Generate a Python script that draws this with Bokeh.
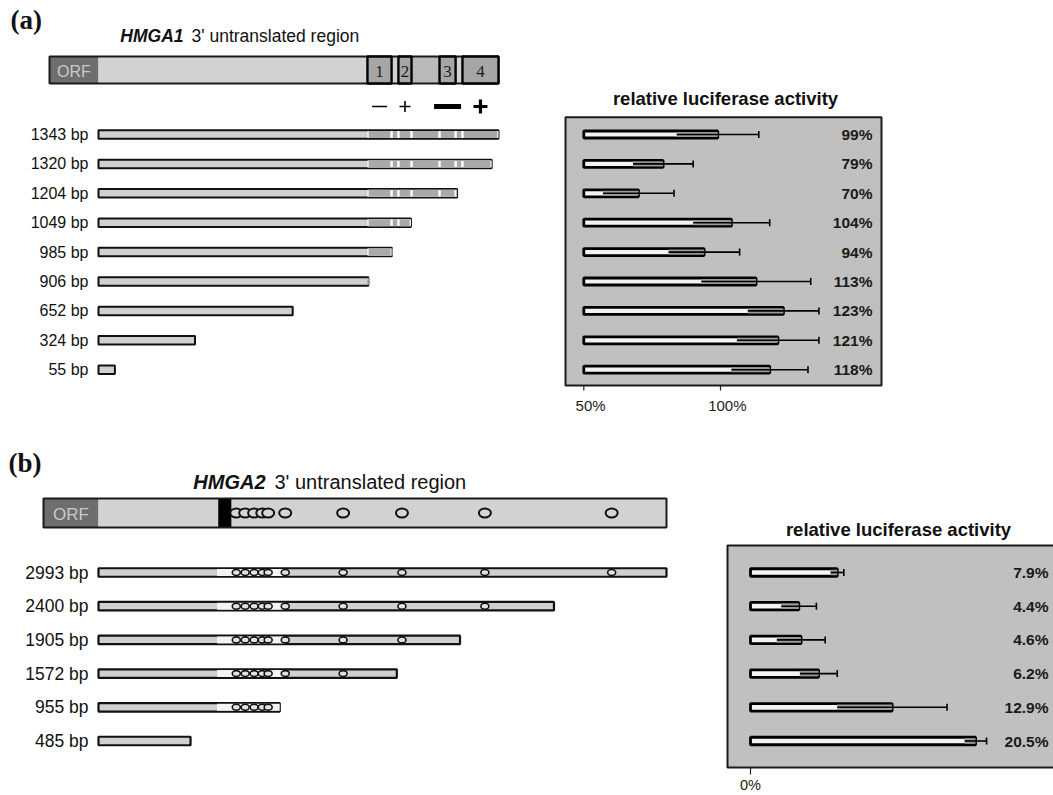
from bokeh.plotting import figure
from bokeh.models import Range1d
from bokeh.core.properties import value
from bokeh.embed import file_html
from bokeh.resources import INLINE

# ---------------- data ----------------
# HMGA1 3' UTR deletion constructs (bp) and relative luciferase activity (%)
hmga1_lengths = [1343, 1320, 1204, 1049, 985, 906, 652, 324, 55]
hmga1_box_start = [903, 1007, 1145, 1222]
hmga1_box_end = [984, 1051, 1199, 1343]
hmga1_box_names = ["1", "2", "3", "4"]
hmga1_box_sign = ["-", "+", "-", "+"]
hmga1_box_sign_strong = [False, False, True, True]
hmga1_activity = [99, 79, 70, 104, 94, 113, 123, 121, 118]
hmga1_error = [15, 11, 13, 14, 13, 20, 13, 15, 14]
hmga1_ticks = [50, 100]

# HMGA2 3' UTR deletion constructs (bp), target sites (bp) and activity (%)
hmga2_lengths = [2993, 2400, 1905, 1572, 955, 485]
hmga2_sites = [726, 773, 820, 863, 894, 984, 1289, 1599, 2036, 2704]
hmga2_block = [631, 700]
hmga2_open = [625, 985]
hmga2_activity = [7.9, 4.4, 4.6, 6.2, 12.9, 20.5]
hmga2_error = [0.6, 1.6, 2.2, 1.7, 5.0, 1.0]
hmga2_ticks = [0]

# ---------------- page geometry ----------------
W, H = 1053, 795
SANS = value("Liberation Sans")
SERIF = value("Liberation Serif")
INK = "#111111"
CHART_BG = "#c0c0c0"

p = figure(width=W, height=H, x_range=Range1d(0, W), y_range=Range1d(H, 0),
           output_backend="svg", toolbar_location=None, min_border=0,
           x_axis_location=None, y_axis_location=None)
p.grid.visible = False
p.outline_line_color = None
p.background_fill_color = "white"
p.border_fill_color = "white"


def scale(origin_px, px_per_unit, origin_value=0.0):
    """Linear data range whose origin_value sits at origin_px on the page."""
    return Range1d(origin_value - origin_px / px_per_unit,
                   origin_value + (W - origin_px) / px_per_unit)


# panel (a) scales
A_BP0, A_BPPX = 98.0, 400.0 / 1343.0
A_PCT0, A_PCTPX = 583.3, 2.734
# panel (b) scales
B_BP0, B_BPPX = 98.0, 568.0 / 2993.0
B_PCT0, B_PCTPX = 750.0, 10.98

p.extra_x_ranges = {
    "bpA": scale(A_BP0, A_BPPX),
    "pctA": scale(A_PCT0, A_PCTPX, hmga1_ticks[0]),
    "bpB": scale(B_BP0, B_BPPX),
    "pctB": scale(B_PCT0, B_PCTPX, hmga2_ticks[0]),
}


def txt(x, y, t, size, rng="default", align="left", style="normal",
        font=SANS, color=INK, baseline="middle"):
    p.text(x=x, y=y, text=t, x_range_name=rng, text_font=font,
           text_font_size=size, text_font_style=style, text_align=align,
           text_baseline=baseline, text_color=color)


def activity_chart(rng, vals, errs, rows, base, bar_h, labels_x, label_size):
    n = len(vals)
    lo = [v - e for v, e in zip(vals, errs)]
    hi = [v + e for v, e in zip(vals, errs)]
    p.hbar(y=rows, left=[base] * n, right=vals, height=bar_h,
           fill_color="#f3f3f3", line_color="black", line_width=2.8,
           x_range_name=rng)
    p.hbar(y=rows, left=lo, right=vals, height=bar_h - 2,
           fill_color="#9a9a9a", line_color=None, x_range_name=rng)
    p.segment(x0=lo, x1=hi, y0=rows, y1=rows, line_color="black",
              line_width=1.6, x_range_name=rng)
    p.segment(x0=hi, x1=hi, y0=[r - 3.5 for r in rows],
              y1=[r + 3.5 for r in rows], line_color="black",
              line_width=1.6, x_range_name=rng)
    txt([labels_x] * n, rows, [f"{v:g}%" for v in vals], label_size,
        align="right", style="bold", color="#1a1a1a")


# ================= panel (a) =================
txt([10], [19], ["(a)"], "27px", font=SERIF, style="bold")
txt([183], [35], ["HMGA1"], "17.5px", align="right", style="bold italic")
txt([191], [35], ["3' untranslated region"], "17.5px")

A_GENE_Y, A_GENE_H = 69.5, 27
a_orf = (A_BP0 - 49) / A_BPPX
a_full = hmga1_lengths[0]
p.hbar(y=[A_GENE_Y], left=[-a_orf], right=[0], height=A_GENE_H,
       fill_color="#6e6e6e", line_color=None, x_range_name="bpA")
p.hbar(y=[A_GENE_Y], left=[0], right=[a_full], height=A_GENE_H,
       fill_color="#d2d2d2", line_color=None, x_range_name="bpA")
p.hbar(y=[A_GENE_Y], left=hmga1_box_end[1:2], right=hmga1_box_start[2:3],
       height=A_GENE_H, fill_color="#b9b9b9", line_color=None,
       x_range_name="bpA")
p.hbar(y=[A_GENE_Y], left=[-a_orf], right=[a_full], height=A_GENE_H,
       fill_color=None, line_color="#1a1a1a", line_width=2,
       x_range_name="bpA")
p.hbar(y=[A_GENE_Y] * 4, left=hmga1_box_start, right=hmga1_box_end,
       height=A_GENE_H, fill_color="#a6a6a6", line_color="black",
       line_width=2.4, x_range_name="bpA")
box_mid = [(s + e) / 2 for s, e in zip(hmga1_box_start, hmga1_box_end)]
txt(box_mid, [A_GENE_Y + 1] * 4, hmga1_box_names, "17px", rng="bpA",
    align="center", font=SERIF, color="#1a1a1a")
txt([-a_orf / 2], [A_GENE_Y + 1], ["ORF"], "16px", rng="bpA",
    align="center", color="#c9c9c9")

# +/- annotations under the boxes
SIGN_Y = 106
for mid, sign, strong in zip(box_mid, hmga1_box_sign, hmga1_box_sign_strong):
    if sign == "-":
        p.scatter(x=[mid], y=[SIGN_Y], marker="dash",
                  size=27 if strong else 15,
                  line_width=5 if strong else 1.6,
                  line_color="black", x_range_name="bpA")
    else:
        p.scatter(x=[mid], y=[SIGN_Y], marker="cross",
                  size=14 if strong else 11,
                  line_width=3.2 if strong else 1.6,
                  line_color="black", x_range_name="bpA")

# deletion constructs
A_ROW0, A_DY = 134.0, 29.4
a_rows = [A_ROW0 + i * A_DY for i in range(len(hmga1_lengths))]
txt([88] * len(a_rows), a_rows, [f"{n} bp" for n in hmga1_lengths], "16px",
    align="right")
p.hbar(y=a_rows, left=[0] * len(a_rows), right=hmga1_lengths, height=8.5,
       fill_color="#d0d0d0", line_color="#111111", line_width=2,
       x_range_name="bpA")
edges = sorted(hmga1_box_start + hmga1_box_end)
gap = 1.2 / A_BPPX
seg_y, seg_l, seg_r, white_l, white_r, white_y = [], [], [], [], [], []
for y, n in zip(a_rows, hmga1_lengths):
    if n <= edges[0]:
        continue
    white_y.append(y)
    white_l.append(edges[0])
    white_r.append(n)
    for s, e in zip(edges[:-1], edges[1:]):
        if s >= n:
            break
        seg_y.append(y)
        seg_l.append(s + gap)
        seg_r.append(min(e, n) - gap)
p.hbar(y=white_y, left=white_l, right=white_r, height=7, fill_color="white",
       line_color=None, x_range_name="bpA")
p.hbar(y=seg_y, left=seg_l, right=seg_r, height=7, fill_color="#a9a9a9",
       line_color=None, x_range_name="bpA")

# luciferase chart (a)
A_FRAME = dict(left=565, right=881, top=116.7, bottom=385)
p.quad(**{k: [v] for k, v in A_FRAME.items()}, fill_color=CHART_BG,
       line_color="#1a1a1a", line_width=2)
txt([725], [98], ["relative luciferase activity"], "18.5px", align="center",
    style="bold")
activity_chart("pctA", hmga1_activity, hmga1_error, a_rows, hmga1_ticks[0],
               7, 872, "15.5px")
p.segment(x0=hmga1_ticks, x1=hmga1_ticks, y0=[A_FRAME["bottom"]] * 2,
          y1=[A_FRAME["bottom"] + 5] * 2, line_color="#222222",
          line_width=1.2, x_range_name="pctA")
txt([t + 2.5 for t in hmga1_ticks], [405] * len(hmga1_ticks),
    [f"{t}%" for t in hmga1_ticks], "15px", rng="pctA", align="center",
    color="#222222")

# ================= panel (b) =================
txt([8], [462], ["(b)"], "27px", font=SERIF, style="bold")
txt([265], [481], ["HMGA2"], "20px", align="right", style="bold italic")
txt([274], [481], ["3' untranslated region"], "20px")

B_GENE_Y, B_GENE_H = 512.5, 29
b_orf = (B_BP0 - 43) / B_BPPX
b_full = hmga2_lengths[0]
p.hbar(y=[B_GENE_Y], left=[-b_orf], right=[0], height=B_GENE_H,
       fill_color="#6e6e6e", line_color=None, x_range_name="bpB")
p.hbar(y=[B_GENE_Y], left=[0], right=[b_full], height=B_GENE_H,
       fill_color="#d2d2d2", line_color=None, x_range_name="bpB")
p.hbar(y=[B_GENE_Y], left=[hmga2_block[0]], right=[hmga2_block[1]],
       height=B_GENE_H, fill_color="black", line_color=None,
       x_range_name="bpB")
p.hbar(y=[B_GENE_Y], left=[-b_orf], right=[b_full], height=B_GENE_H,
       fill_color=None, line_color="#1a1a1a", line_width=2,
       x_range_name="bpB")
p.ellipse(x=hmga2_sites, y=[B_GENE_Y] * len(hmga2_sites), width=12,
          height=9, width_units="screen", height_units="screen",
          fill_color="#d6d6d6", line_color="#111111", line_width=2,
          x_range_name="bpB")
txt([-b_orf / 2], [B_GENE_Y + 1], ["ORF"], "17px", rng="bpB",
    align="center", color="#c9c9c9")

B_ROW0, B_DY = 572.0, 33.7
b_rows = [B_ROW0 + i * B_DY for i in range(len(hmga2_lengths))]
txt([88] * len(b_rows), b_rows, [f"{n} bp" for n in hmga2_lengths], "17.5px",
    align="right")
p.hbar(y=b_rows, left=[0] * len(b_rows), right=hmga2_lengths, height=8.5,
       fill_color="#d0d0d0", line_color="#111111", line_width=2.2,
       x_range_name="bpB")
open_y, open_l, open_r = [], [], []
site_x, site_y = [], []
for y, n in zip(b_rows, hmga2_lengths):
    if n > hmga2_open[0]:
        open_y.append(y)
        open_l.append(hmga2_open[0])
        open_r.append(min(hmga2_open[1], n))
    for s in hmga2_sites:
        if s < n:
            site_x.append(s)
            site_y.append(y)
p.hbar(y=open_y, left=open_l, right=open_r, height=7, fill_color="#f4f4f4",
       line_color=None, x_range_name="bpB")
p.ellipse(x=site_x, y=site_y, width=8, height=6, width_units="screen",
          height_units="screen", fill_color="#e2e2e2", line_color="#111111",
          line_width=1.6, x_range_name="bpB")

# luciferase chart (b)
B_FRAME = dict(left=727, right=W + 10, top=545, bottom=767)
p.quad(**{k: [v] for k, v in B_FRAME.items()}, fill_color=CHART_BG,
       line_color="#1a1a1a", line_width=2)
txt([898], [529], ["relative luciferase activity"], "18.5px", align="center",
    style="bold")
activity_chart("pctB", hmga2_activity, hmga2_error, b_rows, hmga2_ticks[0],
               7.5, 1048, "15.5px")
p.segment(x0=hmga2_ticks, x1=hmga2_ticks, y0=[B_FRAME["bottom"]],
          y1=[B_FRAME["bottom"] + 7], line_color="#222222", line_width=1.2,
          x_range_name="pctB")
txt(hmga2_ticks, [784] * len(hmga2_ticks), [f"{t}%" for t in hmga2_ticks],
    "14.5px", rng="pctB", align="center", color="#222222")

open("out.html", "w").write(file_html(p, INLINE))
